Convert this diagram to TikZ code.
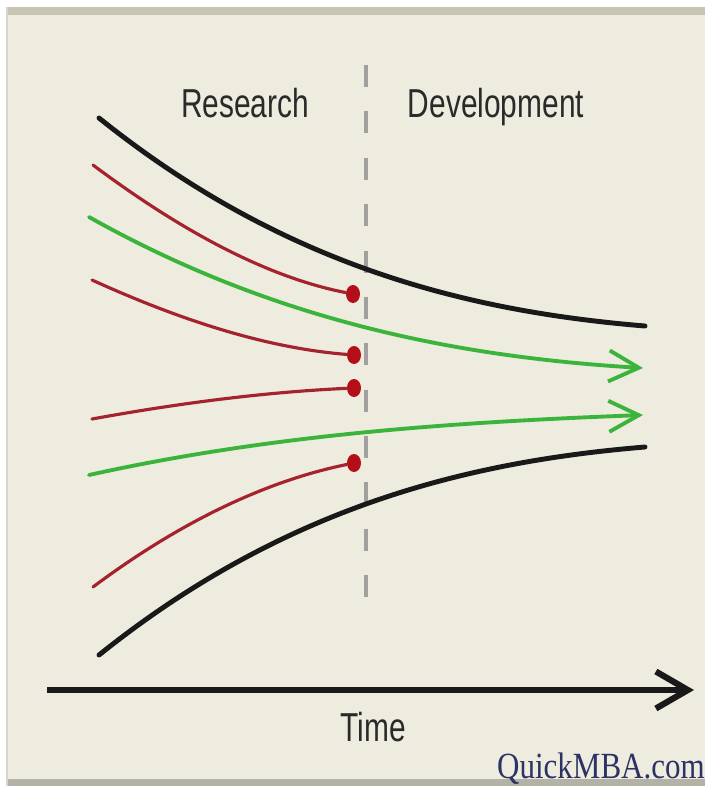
\documentclass[tikz,border=0pt]{standalone}
\usepackage{fontspec}
\setmainfont{Liberation Sans}
\newfontfamily\brandfont{Liberation Serif}
\usetikzlibrary{positioning, shapes.geometric, arrows.meta}
\definecolor{rdBeige}{RGB}{238, 236, 223}
\definecolor{rdBand}{RGB}{200, 198, 178}
\definecolor{rdBase}{RGB}{178, 178, 166}
\definecolor{rdEdge}{RGB}{215, 214, 205}
\definecolor{rdDash}{RGB}{160, 160, 158}
\definecolor{rdText}{RGB}{42, 42, 42}
\definecolor{rdInk}{RGB}{25, 25, 25}
\definecolor{rdRed}{RGB}{165, 35, 45}
\definecolor{rdDot}{RGB}{180, 15, 25}
\definecolor{rdGreen}{RGB}{60, 180, 60}
\definecolor{rdNavy}{RGB}{45, 50, 100}
\tikzset{
    heading/.style={
        font=\fontsize{23}{26}\selectfont,
        text=rdText,
        xscale=0.74,
        anchor=base,
        inner sep=0pt
    },
    brand/.style={
        font=\brandfont\fontsize{21}{24}\selectfont,
        text=rdNavy,
        xscale=0.84,
        anchor=base east,
        inner sep=0pt
    },
    divider/.style={
        draw=rdDash,
        line width=2.2pt,
        dash pattern=on 12.5pt off 13.9pt
    },
    envelope/.style={
        draw=rdInk,
        line width=2.8pt,
        line cap=round
    },
    dropped/.style={
        draw=rdRed,
        line width=1.8pt,
        line cap=round
    },
    carried/.style={
        draw=rdGreen,
        line width=2.2pt,
        line cap=round,
        -{Straight Barb[length=0.6cm, width=0.62cm]}
    },
    stopdot/.style={
        ellipse,
        fill=rdDot,
        inner sep=0pt,
        minimum width=0.28cm,
        minimum height=0.36cm
    },
    axis/.style={
        draw=rdInk,
        line width=3.5pt,
        -{Straight Barb[length=0.64cm, width=0.74cm]}
    }
}

\begin{document}
\begin{tikzpicture}[x=0.02cm, y=-0.02cm]
    \useasboundingbox (0,0) rectangle (705,789);

    % Panel
    \fill[white] (0,0) rectangle (705,789);
    \fill[rdBeige] (7,7) rectangle (705,783);
    \fill[rdBand] (7,7) rectangle (705,15);
    \fill[rdBase] (7,779) rectangle (705,786);
    \draw[rdEdge, line width=0.6pt] (7,7) -- (7,786);

    % Phase divider
    \draw[divider] (366,65) -- (366,600);

    % Phase labels
    \node[heading] (research) at (245,117) {Research};
    \node[heading] (development) at (496,117) {Development};

    % Outer envelope
    \draw[envelope] (99,118) .. controls (281,264) and (463,311) .. (645,326);
    \draw[envelope] (99,655) .. controls (281,509) and (463,462) .. (645,447);

    % Dropped projects
    \node[stopdot] (stopA) at (353,294) {};
    \node[stopdot] (stopB) at (354,355) {};
    \node[stopdot] (stopC) at (354,388) {};
    \node[stopdot] (stopD) at (354,463) {};
    \draw[dropped] (93,165) .. controls (180,230) and (266,277) .. (stopA);
    \draw[dropped] (92,280) .. controls (180,320) and (266,348) .. (stopB);
    \draw[dropped] (92,419) .. controls (180,403) and (266,392) .. (stopC);
    \draw[dropped] (93,587) .. controls (180,522) and (266,481) .. (stopD);

    % Carried into development
    \coordinate (launchA) at (643,368);
    \coordinate (launchB) at (643,415);
    \draw[carried] (89,217) .. controls (274,321) and (458,357) .. (launchA);
    \draw[carried] (89,475) .. controls (274,434) and (458,422) .. (launchB);

    % Time axis
    \coordinate (axisStart) at (47,690);
    \coordinate (axisEnd) at (694,690);
    \draw[axis] (axisStart) -- (axisEnd);
    \node[heading] (time) at (373,741) {Time};
    \node[brand] (site) at (705,778) {QuickMBA.com};
\end{tikzpicture}
\end{document}
